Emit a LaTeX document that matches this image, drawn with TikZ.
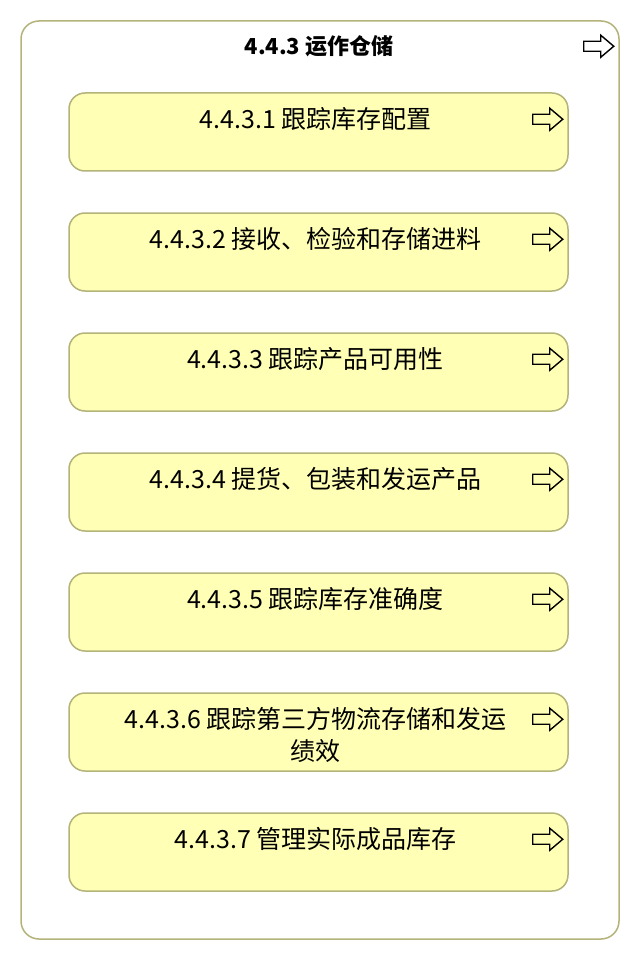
\documentclass[tikz,border=0pt]{standalone}
\usepackage{fontspec}
\setmainfont{Noto Sans CJK SC}
\definecolor{boxline}{HTML}{B3B37A}
\definecolor{boxfill}{HTML}{FFFFB5}
\begin{document}
\begin{tikzpicture}[x=1pt,y=-1pt,
    frame/.style={draw=boxline,line width=1.5pt,fill=white,rounded corners=18pt,
      minimum width=598pt,minimum height=918pt,inner sep=0pt},
    procbox/.style={draw=boxline,line width=1.5pt,fill=boxfill,rounded corners=16pt,
      minimum width=499pt,minimum height=78pt,inner sep=0pt},
    boxtext/.style={inner sep=0pt,font=\fontsize{25}{32}\selectfont},
    titletext/.style={inner sep=0pt,font=\fontsize{22}{30}\selectfont\bfseries},
    pics/goicon/.style={code={
      \draw[line width=1.4pt,line join=miter] (-15,-5) -- (2,-5) -- (2,-11) -- (15,0)
        -- (2,11) -- (2,5) -- (-15,5) -- cycle;}}]
    \useasboundingbox (0,0) rectangle (640,960);

    % outer frame
    \node[frame] (frame) at (320,480) {};
    \node[titletext] (t0) at ([xshift=-1pt,yshift=-26pt]frame.north) {4.4.3 运作仓储};
    \pic at ([xshift=-21pt,yshift=-26pt]frame.north east) {goicon};

    % process boxes
    \node[procbox] (b1) at (318.5,132) {};
    \node[procbox] (b2) at (318.5,252) {};
    \node[procbox] (b3) at (318.5,372) {};
    \node[procbox] (b4) at (318.5,492) {};
    \node[procbox] (b5) at (318.5,612) {};
    \node[procbox] (b6) at (318.5,732) {};
    \node[procbox] (b7) at (318.5,852) {};

    \node[boxtext] (t1) at ([xshift=-3pt,yshift=-27pt]b1.north) {4.4.3.1 跟踪库存配置};
    \node[boxtext] (t2) at ([xshift=-3pt,yshift=-27pt]b2.north) {4.4.3.2 接收、检验和存储进料};
    \node[boxtext] (t3) at ([xshift=-3pt,yshift=-27pt]b3.north) {4.4.3.3 跟踪产品可用性};
    \node[boxtext] (t4) at ([xshift=-3pt,yshift=-27pt]b4.north) {4.4.3.4 提货、包装和发运产品};
    \node[boxtext] (t5) at ([xshift=-3pt,yshift=-27pt]b5.north) {4.4.3.5 跟踪库存准确度};
    \node[boxtext,align=center] (t6) at ([xshift=-3pt,yshift=-43pt]b6.north) {4.4.3.6 跟踪第三方物流存储和发运\\绩效};
    \node[boxtext] (t7) at ([xshift=-3pt,yshift=-27pt]b7.north) {4.4.3.7 管理实际成品库存};

    \pic at ([xshift=-21pt,yshift=-27pt]b1.north east) {goicon};
    \pic at ([xshift=-21pt,yshift=-27pt]b2.north east) {goicon};
    \pic at ([xshift=-21pt,yshift=-27pt]b3.north east) {goicon};
    \pic at ([xshift=-21pt,yshift=-27pt]b4.north east) {goicon};
    \pic at ([xshift=-21pt,yshift=-27pt]b5.north east) {goicon};
    \pic at ([xshift=-21pt,yshift=-27pt]b6.north east) {goicon};
    \pic at ([xshift=-21pt,yshift=-27pt]b7.north east) {goicon};
\end{tikzpicture}
\end{document}
